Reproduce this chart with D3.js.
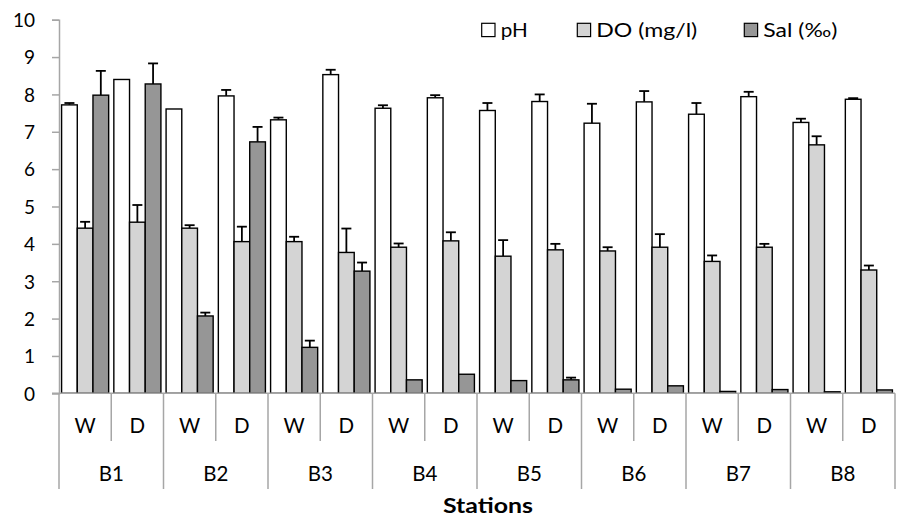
<!DOCTYPE html>
<html><head><meta charset="utf-8">
<script src="https://cdn.jsdelivr.net/npm/d3@7"></script>
<style>body{margin:0;background:#fff}svg{display:block}text{font-family:Lato,"Open Sans",sans-serif}</style>
</head><body><svg id="c" width="898" height="518"></svg>
<script>
const stations = ["B1","B2","B3","B4","B5","B6","B7","B8"];
const seasons = ["W","D"];
const seriesNames = ["pH","DO (mg/l)","Sal (‰)"];
const seriesColors = ["#ffffff","#d4d4d4","#969696"];
const pH     = [7.72,8.40,7.61,7.96,7.32,8.53,7.63,7.91,7.57,7.81,7.23,7.80,7.47,7.94,7.25,7.87];
const pHErr  = [0.05,0.00,0.00,0.16,0.06,0.13,0.08,0.07,0.20,0.19,0.52,0.29,0.30,0.13,0.10,0.03];
const DO     = [4.42,4.58,4.42,4.06,4.06,3.77,3.91,4.08,3.67,3.84,3.81,3.91,3.53,3.91,6.65,3.30];
const DOErr  = [0.17,0.46,0.08,0.40,0.13,0.64,0.10,0.23,0.43,0.16,0.10,0.35,0.16,0.09,0.23,0.12];
const Sal    = [7.98,8.28,2.07,6.73,1.23,3.27,0.36,0.51,0.34,0.36,0.11,0.20,0.05,0.10,0.04,0.09];
const SalErr = [0.65,0.55,0.09,0.40,0.18,0.23,0.00,0.00,0.00,0.06,0.00,0.00,0.00,0.00,0.00,0.00];
const yTicks = [0,1,2,3,4,5,6,7,8,9,10];

const cats = [];
stations.forEach(s => seasons.forEach(se => cats.push(s + "-" + se)));
const series = [[pH,pHErr],[DO,DOErr],[Sal,SalErr]];

const svg = d3.select("#c");
const m = {l:59, r:895, t:19.7, b:393.3};
const x = d3.scaleBand().domain(cats).range([m.l, m.r]).paddingInner(0).paddingOuter(0);
const xi = d3.scaleBand().domain(d3.range(3)).range([0, x.bandwidth()]).paddingInner(0).paddingOuter(0.165);
const y = d3.scaleLinear().domain([0,10]).range([m.b, m.t]);
const axisCol = "#a6a6a6";

// y axis
const ya = svg.append("g").attr("transform",`translate(${m.l},0)`)
  .call(d3.axisLeft(y).tickValues(yTicks).tickSize(7).tickPadding(17).tickFormat(d3.format("d")));
ya.select(".domain").attr("stroke",axisCol).attr("stroke-width",1.5);
ya.selectAll(".tick line").attr("stroke",axisCol).attr("stroke-width",1.5);
ya.selectAll(".tick text").attr("font-size",19).attr("fill","#000").attr("dy","0.36em");

// bars
cats.forEach((c,i) => {
  series.forEach(([vals,errs],k) => {
    const bx = x(c) + xi(k), bw = xi.bandwidth();
    const v = vals[i], e = errs[i];
    if (e > 0) {
      const cx = bx + bw/2;
      svg.append("line").attr("x1",cx).attr("x2",cx).attr("y1",y(v)).attr("y2",y(v+e)).attr("stroke","#000").attr("stroke-width",1.8);
      svg.append("line").attr("x1",cx-5).attr("x2",cx+5).attr("y1",y(v+e)).attr("y2",y(v+e)).attr("stroke","#000").attr("stroke-width",1.8);
    }
    svg.append("rect").attr("x",bx).attr("width",bw).attr("y",y(v)).attr("height",y(0)-y(v))
      .attr("fill",seriesColors[k]).attr("stroke","#000").attr("stroke-width",1.4);
  });
});

// x axis baseline
svg.append("line").attr("x1",m.l-7).attr("x2",m.r).attr("y1",y(0)).attr("y2",y(0)).attr("stroke",axisCol).attr("stroke-width",1.5);
// category separators
const stW = x.bandwidth()*2;
cats.forEach((c,i) => {
  const xx = x(c);
  const isGroup = i % 2 === 0;
  svg.append("line").attr("x1",xx).attr("x2",xx).attr("y1",y(0)).attr("y2",isGroup?489:441).attr("stroke",axisCol).attr("stroke-width",1.5);
  svg.append("text").attr("x",xx + x.bandwidth()/2).attr("y",433).attr("text-anchor","middle").attr("font-size",20.5).text(c.split("-")[1]);
});
svg.append("line").attr("x1",m.r).attr("x2",m.r).attr("y1",y(0)).attr("y2",489).attr("stroke",axisCol).attr("stroke-width",1.5);
stations.forEach(s => {
  svg.append("text").attr("x",x(s+"-W") + stW/2).attr("y",481).attr("text-anchor","middle").attr("font-size",20.5).text(s);
});
svg.append("text").attr("x",(m.l+m.r)/2 + 11).attr("y",513).attr("text-anchor","middle").attr("font-size",21).attr("font-weight","bold")
  .attr("textLength",90).attr("lengthAdjust","spacingAndGlyphs").text("Stations");

// legend
const legX = [481.7, 577.3, 744.3];
const legW = [27, 101, 74];
seriesNames.forEach((n,k) => {
  svg.append("rect").attr("x",legX[k]).attr("y",23.3).attr("width",13.3).attr("height",13.3).attr("fill",seriesColors[k]).attr("stroke","#000").attr("stroke-width",1.2);
  svg.append("text").attr("x",legX[k]+19).attr("y",36.7).attr("font-size",18.5)
    .attr("textLength",legW[k]).attr("lengthAdjust","spacingAndGlyphs").text(n);
});
</script></body></html>
